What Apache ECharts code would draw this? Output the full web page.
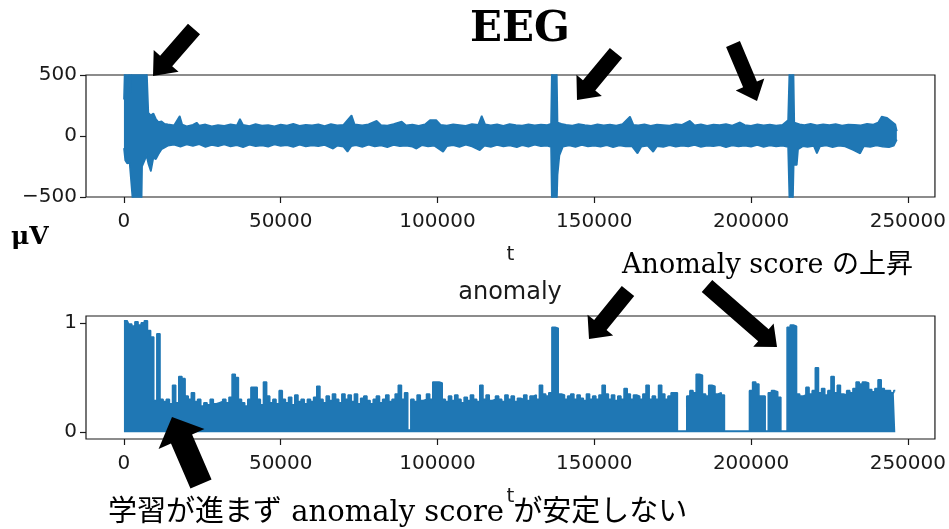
<!DOCTYPE html>
<html>
<head>
<meta charset="utf-8">
<script src="https://cdn.jsdelivr.net/npm/echarts@6/dist/echarts.min.js"></script>
<style>
  html, body { margin: 0; padding: 0; background: #fff; }
  #chart { width: 949px; height: 529px; }
</style>
</head>
<body>
<div id="chart"></div>
<script>
// ---- EEG trace: upper and lower envelope of the signal, [t, µV] ----
const eegUpper = [
  [0,300],[300,600],[1200,600],[1700,560],[2000,350],[2400,600],[4200,600],[5400,600],[6300,600],[7200,600],
  [7800,190],[8600,170],[9400,185],[10200,140],[11000,115],[12000,120],[13000,100],[14000,95],[16000,88],[17800,165],
  [18600,95],[20000,80],[22000,92],[23200,110],[24000,85],[26000,95],[28000,80],[30000,90],[32000,84],[34000,96],
  [36000,88],[37000,140],[38000,92],[40000,82],[42000,98],[44000,86],[46000,90],[48000,80],[50000,94],[52000,86],
  [54000,100],[56000,84],[58000,92],[60000,88],[62000,96],[64000,82],[66000,98],[68000,88],[70000,92],[72600,170],
  [73600,95],[76000,88],[78000,96],[80600,125],[82000,90],[84000,86],[86000,98],[88600,118],[90000,88],[92000,94],
  [94000,84],[96000,96],[97600,130],[99600,130],[101000,92],[103000,86],[105000,96],[107000,90],[109000,84],[111000,98],
  [113000,92],[114100,165],[115200,95],[117000,88],[119000,96],[121000,84],[123000,98],[125000,90],[127000,86],[129000,96],
  [131000,88],[133000,94],[135000,90],[136200,100],[136500,600],[138000,600],[138300,110],[139500,100],[141000,92],[143000,86],
  [145000,98],[147000,90],[149000,84],[151000,96],[153000,88],[155000,94],[157000,86],[159000,98],[161400,160],[162500,92],
  [164000,88],[166000,96],[168000,84],[170000,94],[172000,90],[174000,86],[176000,98],[178000,92],[180500,125],[182000,88],
  [184000,96],[186000,84],[188000,94],[190000,90],[192000,98],[194000,86],[196500,112],[198000,90],[200000,84],[202000,96],
  [204000,88],[206000,94],[208000,86],[210000,92],[211800,130],[212300,600],[213500,600],[213800,110],[215500,96],[217000,90],
  [219000,100],[221000,88],[223000,96],[225000,90],[227000,98],[229000,86],[231000,94],[233000,92],[235000,88],[237000,100],
  [239000,94],[240500,110],[241700,160],[243300,150],[244800,120],[246000,96],[246500,40]
];
const eegLower = [
  [0,-100],[400,-200],[1000,-225],[1800,-220],[2400,-230],[3000,-600],[5600,-600],[5800,-250],[6600,-200],[7200,-160],
  [7800,-230],[8600,-290],[9400,-180],[10200,-190],[11000,-150],[12000,-110],[13000,-95],[14000,-80],[16000,-72],[18000,-88],
  [20000,-70],[22000,-82],[24000,-68],[26000,-90],[28000,-74],[30000,-84],[32000,-70],[34000,-86],[36000,-76],[38000,-92],
  [40000,-72],[42000,-84],[44000,-78],[46000,-88],[48000,-70],[50000,-82],[52000,-76],[54000,-90],[56000,-72],[58000,-86],
  [60000,-78],[62000,-84],[64000,-74],[66700,-104],[68000,-80],[70000,-88],[71300,-130],[72500,-84],[74000,-76],[76000,-90],
  [78000,-72],[80000,-86],[82000,-78],[84000,-92],[86000,-74],[88000,-84],[90000,-80],[92000,-88],[93300,-104],[95000,-76],
  [97000,-86],[99000,-80],[101800,-130],[103000,-84],[105000,-76],[107000,-90],[109000,-72],[111000,-86],[113500,-117],[115000,-80],
  [117000,-90],[119000,-74],[121000,-86],[123000,-78],[125300,-92],[127000,-76],[129000,-88],[131000,-72],[133000,-84],[135000,-80],
  [136200,-90],[136500,-600],[138000,-600],[138300,-320],[138900,-160],[140000,-88],[142000,-78],[144000,-90],[146000,-74],[148000,-86],
  [150000,-80],[152000,-88],[154000,-76],[156000,-92],[158000,-78],[160000,-86],[162000,-84],[163800,-143],[165000,-88],[167000,-80],
  [168800,-130],[170000,-84],[172000,-90],[174000,-76],[176000,-88],[178000,-80],[180000,-86],[182000,-74],[184000,-90],[186000,-80],
  [188000,-84],[190000,-76],[192000,-92],[194000,-78],[196000,-86],[198000,-80],[200000,-88],[202000,-74],[204000,-90],[206000,-78],
  [208000,-86],[210000,-80],[211800,-90],[212300,-600],[213300,-600],[213600,-237],[214600,-237],[215000,-110],[216500,-84],[218000,-90],
  [220000,-82],[221000,-143],[222000,-86],[224000,-78],[226000,-92],[228000,-80],[230000,-86],[232600,-115],[234800,-143],[236000,-84],
  [238000,-90],[240000,-78],[242000,-88],[244000,-92],[245500,-80],[246500,-30]
];

// ---- anomaly score, one value per 1000 samples (t = 0 … 246000) ----
const anomalyStep = 1000;
const anomalyScore = [
  1.02,1.02,0.99,0.97,1.01,0.98,1.0,1.02,0.93,0.87,
  0.29,0.9,0.3,0.28,0.3,0.26,0.43,0.27,0.51,0.49,
  0.33,0.3,0.36,0.28,0.3,0.24,0.27,0.25,0.3,0.26,
  0.27,0.28,0.3,0.27,0.32,0.53,0.5,0.3,0.27,0.24,
  0.3,0.41,0.41,0.3,0.25,0.46,0.33,0.27,0.3,0.26,
  0.38,0.3,0.27,0.32,0.25,0.34,0.28,0.3,0.26,0.3,
  0.28,0.32,0.42,0.3,0.27,0.33,0.29,0.35,0.3,0.27,
  0.35,0.3,0.34,0.28,0.35,0.26,0.31,0.33,0.29,0.26,
  0.3,0.33,0.27,0.3,0.34,0.28,0.3,0.35,0.43,0.3,
  0.36,0.02,0.3,0.28,0.34,0.29,0.3,0.35,0.3,0.46,
  0.46,0.45,0.3,0.28,0.33,0.29,0.34,0.3,0.27,0.32,
  0.29,0.34,0.3,0.28,0.43,0.3,0.34,0.29,0.3,0.33,
  0.3,0.28,0.34,0.3,0.33,0.28,0.31,0.3,0.34,0.29,
  0.33,0.34,0.3,0.43,0.35,0.33,0.36,0.96,0.95,0.35,
  0.34,0.3,0.33,0.35,0.3,0.34,0.31,0.29,0.35,0.3,
  0.33,0.3,0.34,0.43,0.35,0.3,0.34,0.29,0.33,0.3,
  0.4,0.35,0.3,0.34,0.33,0.3,0.35,0.43,0.3,0.33,
  0.3,0.43,0.35,0.3,0.33,0.36,0.36,0.01,0.01,0.01,
  0.33,0.38,0.36,0.53,0.52,0.35,0.33,0.43,0.42,0.35,
  0.36,0.34,0.01,0.01,0.01,0.01,0.01,0.01,0.01,0.01,
  0.38,0.46,0.44,0.33,0.33,0.01,0.36,0.38,0.37,0.32,
  0.01,0.01,0.96,0.98,0.97,0.35,0.33,0.34,0.41,0.35,
  0.38,0.59,0.36,0.4,0.34,0.38,0.51,0.36,0.43,0.35,
  0.34,0.38,0.36,0.4,0.46,0.44,0.46,0.45,0.39,0.37,
  0.4,0.48,0.4,0.38,0.38,0.36,0.38
];

// ---- axis ticks ----
const tTicks = [0, 50000, 100000, 150000, 200000, 250000];
const eegTicks = [-500, 0, 500];
const anomalyTicks = [0, 1];

const BLUE = '#1f77b4';
const INK = '#1a1a1a';
const tickFont = { fontFamily: 'DejaVu Sans', fontSize: 20, color: INK };
const minusSign = v => (v < 0 ? '\u2212' + (-v) : String(v));

function timeAxis(gridIndex) {
  return {
    type: 'value', gridIndex, min: -12100, max: 258650,
    name: 't', nameLocation: 'middle', nameGap: 48,
    nameTextStyle: { fontFamily: 'DejaVu Sans', fontSize: 20, color: INK },
    axisLine: { show: false, onZero: false },
    axisTick: { show: true, customValues: tTicks, length: 6, lineStyle: { color: INK, width: 1.2 } },
    axisLabel: Object.assign({ customValues: tTicks, margin: 15, formatter: v => String(v) }, tickFont),
    splitLine: { show: false }
  };
}
function valueAxis(gridIndex, min, max, ticks) {
  return {
    type: 'value', gridIndex, min, max,
    axisLine: { show: false, onZero: false },
    axisTick: { show: true, customValues: ticks, length: 6, lineStyle: { color: INK, width: 1.2 } },
    axisLabel: Object.assign({ customValues: ticks, margin: 9, formatter: minusSign }, tickFont),
    splitLine: { show: false }
  };
}

// ---- annotation arrows (tail -> tip, in page pixels) ----
const arrows = [
  { tail: [194, 29],  tip: [153, 76],  shaft: 16, head: 33, headLen: 20 },
  { tail: [616, 53],  tip: [577, 100], shaft: 16, head: 33, headLen: 19 },
  { tail: [733, 44],  tip: [757, 101], shaft: 15, head: 31, headLen: 18 },
  { tail: [628, 291], tip: [589, 339], shaft: 16, head: 33, headLen: 18 },
  { tail: [707, 286], tip: [777, 347], shaft: 16, head: 31, headLen: 18 },
  { tail: [201, 484], tip: [172, 417], shaft: 23, head: 50, headLen: 24 }
];
function arrowPolygon(a) {
  const dx = a.tip[0] - a.tail[0], dy = a.tip[1] - a.tail[1];
  const len = Math.hypot(dx, dy), ux = dx / len, uy = dy / len;
  const nx = -uy, ny = ux;
  const bx = a.tip[0] - ux * a.headLen, by = a.tip[1] - uy * a.headLen;
  const s = a.shaft / 2, h = a.head / 2;
  return [
    [a.tail[0] + nx * s, a.tail[1] + ny * s],
    [bx + nx * s, by + ny * s],
    [bx + nx * h, by + ny * h],
    [a.tip[0], a.tip[1]],
    [bx - nx * h, by - ny * h],
    [bx - nx * s, by - ny * s],
    [a.tail[0] - nx * s, a.tail[1] - ny * s]
  ];
}

const serifJP = '"DejaVu Serif", "Noto Sans CJK JP"';
const notes = [
  { type: 'text', x: 520, y: 30, style: { text: 'EEG', font: 'bold 42px "DejaVu Serif"', fill: '#000', align: 'center', verticalAlign: 'middle' } },
  { type: 'text', x: 11, y: 237, style: { text: 'μV', font: 'bold 25px "DejaVu Serif"', fill: '#000', align: 'left', verticalAlign: 'middle' } },
  { type: 'text', x: 622, y: 266, style: { text: 'Anomaly score の上昇', font: '27px ' + serifJP, fill: '#000', align: 'left', verticalAlign: 'middle' } },
  { type: 'text', x: 108, y: 513, style: { text: '学習が進まず anomaly score が安定しない', font: '29px ' + serifJP, fill: '#000', align: 'left', verticalAlign: 'middle' } },
  { type: 'text', x: 510, y: 293, style: { text: 'anomaly', font: '24px "DejaVu Sans"', fill: INK, align: 'center', verticalAlign: 'middle' } }
].concat(arrows.map(a => ({ type: 'polygon', z: 100, shape: { points: arrowPolygon(a) }, style: { fill: '#000' } })));

const chart = echarts.init(document.getElementById('chart'), null, { renderer: 'canvas' });
chart.setOption({
  animation: false,
  backgroundColor: '#fff',
  grid: [
    { left: 86, top: 75, width: 849, height: 122, show: true, borderColor: INK, borderWidth: 1.2, backgroundColor: 'transparent' },
    { left: 86, top: 316, width: 849, height: 123, show: true, borderColor: INK, borderWidth: 1.2, backgroundColor: 'transparent' }
  ],
  xAxis: [timeAxis(0), timeAxis(1)],
  yAxis: [valueAxis(0, -500, 500, eegTicks), valueAxis(1, -0.062, 1.063, anomalyTicks)],
  series: [
    {
      name: 'EEG upper', type: 'line', xAxisIndex: 0, yAxisIndex: 0, data: eegUpper,
      symbol: 'none', clip: true, lineStyle: { color: BLUE, width: 1.6 },
      areaStyle: { color: BLUE, opacity: 1, origin: 0 }
    },
    {
      name: 'EEG lower', type: 'line', xAxisIndex: 0, yAxisIndex: 0, data: eegLower,
      symbol: 'none', clip: true, lineStyle: { color: BLUE, width: 1.6 },
      areaStyle: { color: BLUE, opacity: 1, origin: 0 }
    },
    {
      name: 'anomaly', type: 'line', xAxisIndex: 1, yAxisIndex: 1,
      data: anomalyScore.map((v, i) => [i * anomalyStep, v]),
      step: 'middle', symbol: 'none', clip: true, lineStyle: { color: BLUE, width: 1.6 },
      areaStyle: { color: BLUE, opacity: 1, origin: 0 }
    }
  ],
  graphic: notes
});
</script>
</body>
</html>
